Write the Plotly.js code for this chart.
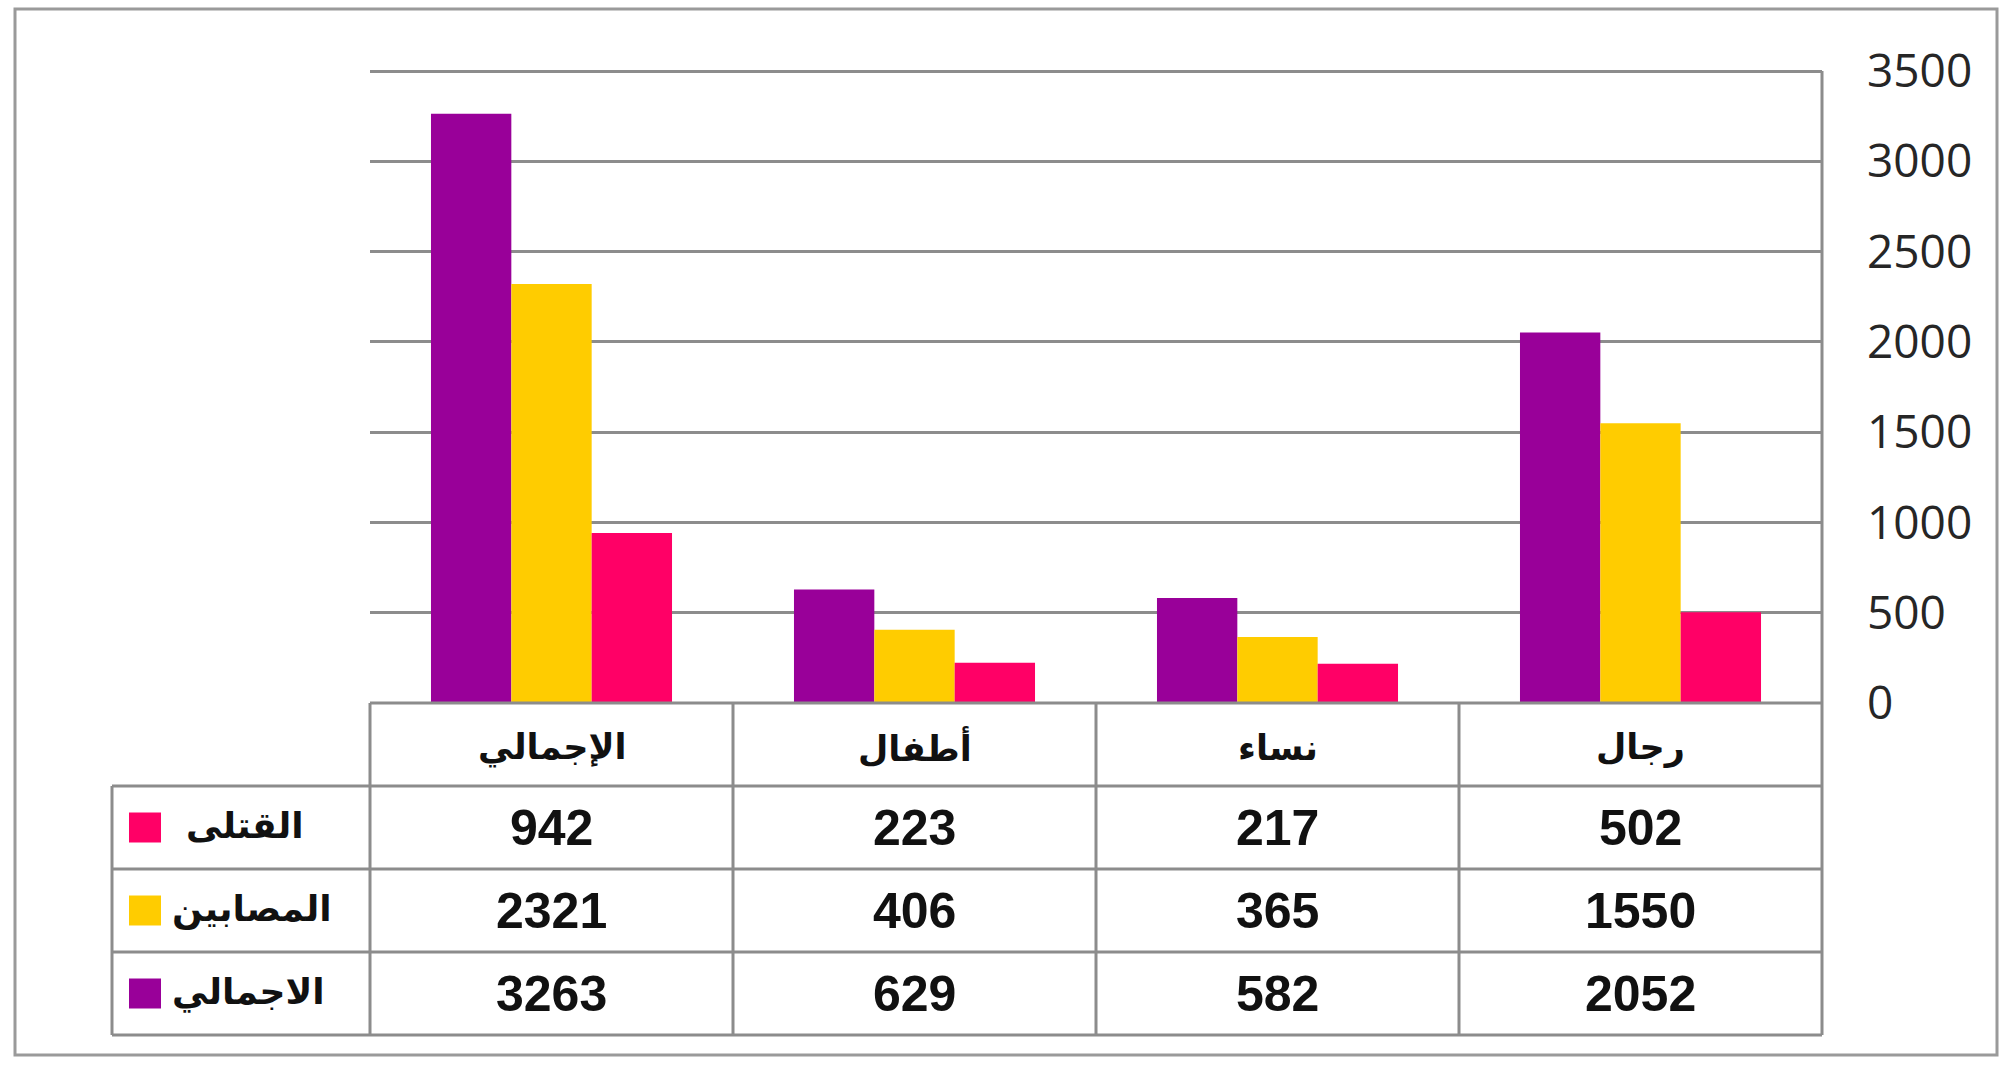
<!DOCTYPE html>
<html>
<head>
<meta charset="utf-8">
<script src="https://cdn.plot.ly/plotly-3.0.1.min.js"></script>
<style>html,body{margin:0;padding:0;background:#fff;}#chart{width:2011px;height:1065px;}</style>
</head>
<body>
<div id="chart"></div>
<script>
// ---- data ----
const categories = ['الإجمالي', 'أطفال', 'نساء', 'رجال'];
const totalVals = [3263, 629, 582, 2052];     // الاجمالي
const injuredVals = [2321, 406, 365, 1550];   // المصابين
const killedVals = [942, 223, 217, 502];      // القتلى
const seriesNames = ['الاجمالي', 'المصابين', 'القتلى'];
const seriesColors = ['#990099', '#FFCC00', '#FF0066'];
const yTicks = [0, 500, 1000, 1500, 2000, 2500, 3000, 3500];
// table rows, top to bottom
const tableRowNames = ['القتلى', 'المصابين', 'الاجمالي'];
const tableRowVals = [killedVals, injuredVals, totalVals];
const tableRowColors = ['#FF0066', '#FFCC00', '#990099'];

// ---- layout geometry (pixels) ----
const W = 2011, H = 1065;
const L = 370, R = 1822, T = 70, B = 703;
const yMax = 3506;
const plotW = R - L, plotH = B - T;
const catW = plotW / categories.length;
const rowH = 83;
const legLeft = 112;
const lineCol = '#8c8c8c';

function pyP(py) { return (B - py) / plotH; }             // pixel -> paper y
function pxP(px) { return (px - L) / plotW; }             // pixel -> paper x

const valsBySeries = [totalVals, injuredVals, killedVals];
const traces = seriesNames.map((n, i) => ({
  type: 'bar', name: n, x: categories, y: valsBySeries[i],
  marker: {color: seriesColors[i], line: {width: 0}}, hoverinfo: 'x+y'
}));

const shapes = [];
const annotations = [];
function hline(x0, x1, py) {
  shapes.push({type: 'line', xref: 'paper', yref: 'paper', x0: pxP(x0), x1: pxP(x1), y0: pyP(py), y1: pyP(py), line: {color: lineCol, width: 3}});
}
function vline(px, y0, y1) {
  shapes.push({type: 'line', xref: 'paper', yref: 'paper', x0: pxP(px), x1: pxP(px), y0: pyP(y0), y1: pyP(y1), line: {color: lineCol, width: 3}});
}
const nRows = tableRowNames.length;
const tableBottom = B + rowH * (nRows + 1);
// top gridline (3500)
shapes.push({type: 'line', xref: 'paper', yref: 'y', x0: 0, x1: 1, y0: yTicks[yTicks.length - 1], y1: yTicks[yTicks.length - 1], line: {color: lineCol, width: 3}});
// horizontal lines
hline(L, R, B);
for (let r = 1; r <= nRows + 1; r++) hline(legLeft, R, B + rowH * r);
// vertical lines
for (let c = 0; c <= categories.length; c++) vline(L + catW * c, B, tableBottom);
vline(legLeft, B + rowH, tableBottom);

const hdrFont = {family: 'DejaVu Sans', size: 35, color: '#111'};
const arFont = {family: 'DejaVu Sans', size: 36, color: '#111'};
const numFont = {family: 'Liberation Sans, Arial, sans-serif', size: 50, color: '#111'};
// header labels
categories.forEach((c, i) => {
  annotations.push({xref: 'x', yref: 'paper', x: i, y: pyP(B + rowH / 2 + 3), text: '<b>' + c + '</b>',
    showarrow: false, xanchor: 'center', yanchor: 'middle', font: hdrFont});
});
// rows
tableRowNames.forEach((name, r) => {
  const cy = B + rowH * (r + 1) + rowH / 2;
  tableRowVals[r].forEach((v, i) => {
    annotations.push({xref: 'x', yref: 'paper', x: i, y: pyP(cy), text: '<b>' + v + '</b>',
      showarrow: false, xanchor: 'center', yanchor: 'middle', font: numFont});
  });
  shapes.push({type: 'rect', xref: 'paper', yref: 'paper', x0: pxP(129), x1: pxP(161), y0: pyP(cy - 15), y1: pyP(cy + 15),
    fillcolor: tableRowColors[r], line: {width: 0}});
  annotations.push({xref: 'paper', yref: 'paper', x: pxP(r === 0 ? 184 : 170), y: pyP(cy - 2), text: '<b>' + name + '</b>',
    showarrow: false, xanchor: 'left', yanchor: 'middle', font: arFont});
});
// outer border
shapes.push({type: 'rect', xref: 'paper', yref: 'paper', x0: pxP(15), x1: pxP(1997), y0: pyP(9), y1: pyP(1055),
  line: {color: '#9a9a9a', width: 3}, fillcolor: 'rgba(0,0,0,0)'});
// right border of the plot, from 0 to the top tick
shapes.push({type: 'line', xref: 'paper', yref: 'y', x0: 1, x1: 1, y0: 0, y1: yTicks[yTicks.length - 1], line: {color: lineCol, width: 3}});

const layout = {
  width: W, height: H,
  margin: {l: L, r: W - R, t: T, b: H - B, pad: 0},
  paper_bgcolor: '#fff', plot_bgcolor: '#fff',
  showlegend: false,
  barmode: 'group', bargap: 0.336, bargroupgap: 0,
  xaxis: {type: 'category', categoryorder: 'array', categoryarray: categories, range: [-0.5, 3.5],
    showticklabels: false, showgrid: false, zeroline: false, showline: false, ticks: ''},
  yaxis: {side: 'right', range: [0, yMax], tickvals: yTicks, ticktext: yTicks.map(String),
    showgrid: true, gridcolor: lineCol, gridwidth: 3, zeroline: false,
    showline: false, ticks: '', ticklabelstandoff: 44,
    tickfont: {family: 'Open Sans', size: 46, color: '#262626'}},
  shapes: shapes, annotations: annotations
};
Plotly.newPlot('chart', traces, layout, {staticPlot: true});
</script>
</body>
</html>
